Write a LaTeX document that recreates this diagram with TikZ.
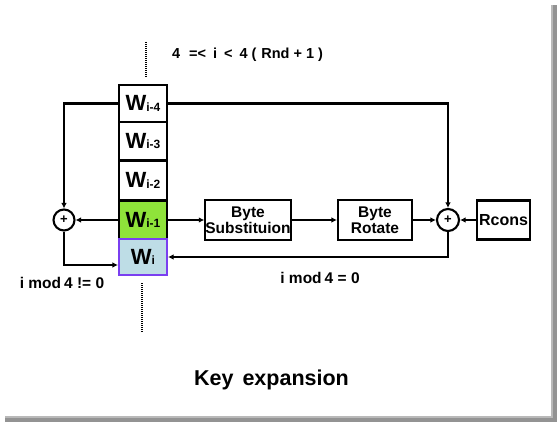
\documentclass[tikz,border=0pt]{standalone}
\usepackage{fontspec}
\setmainfont{Liberation Sans}
\usetikzlibrary{arrows.meta}
\definecolor{wgreen}{HTML}{8FE33A}
\definecolor{wblue}{HTML}{BEDDE6}
\definecolor{wpurple}{HTML}{7A3FF0}
\newcommand{\fs}[1]{\fontsize{#1}{#1}\selectfont}
\newcommand{\wlab}[1]{\fs{22}W\raisebox{-0.5pt}{\fs{12}#1}}
\begin{document}
\begin{tikzpicture}[x=1pt,y=-1pt,
  line width=2.1pt,
  font=\bfseries,
  arr/.style={-{Latex[length=5.5pt,width=5.5pt]}},
  wbox/.style={draw,minimum width=48pt,inner sep=0pt,font=\bfseries},
  pbox/.style={draw,inner sep=0pt,align=center,font=\bfseries\fs{15.5},execute at begin node={\setlength{\baselineskip}{16pt}}},
  adder/.style={draw,circle,minimum size=22pt,inner sep=0pt,font=\bfseries\fs{13}},
  lab/.style={inner sep=0pt,font=\bfseries\fs{15.5}},
  dotline/.style={line width=2pt,dash pattern=on 1pt off 1pt}]
\useasboundingbox (0,0) rectangle (557,422);
\fill[white] (0,0) rectangle (557,422);
% shadow frame
\fill[gray!85] (551,5) rectangle (557,422);
\fill[gray!85] (5,416) rectangle (557,422);
\fill[gray!55] (551,5) rectangle (552.5,416);
\fill[gray!55] (5,416) rectangle (552.5,417.5);
% column of words
\node[wbox,minimum height=37pt] (w4) at (143,103.5) {\wlab{i-4}};
\node[wbox,minimum height=38pt] (w3) at (143,141) {\wlab{i-3}};
\node[wbox,minimum height=40pt] (w2) at (143,180.5) {\wlab{i-2}};
\node[wbox,minimum height=38pt,fill=wgreen] (w1) at (143,220) {\wlab{i-1}};
\node[wbox,minimum height=36pt,fill=wblue,draw=wpurple] (w0) at (143,257) {\wlab{i}};
% processing boxes
\node[pbox,minimum width=84pt,minimum height=40pt] (bs) at (248,220) {Byte\\Substituion};
\node[pbox,minimum width=74pt,minimum height=40pt] (br) at (375,220) {Byte\\Rotate};
\node[pbox,minimum width=53pt,minimum height=39pt,font=\bfseries\fs{16}] (rc) at (503.5,220) {Rcons};
% adders
\node[adder,minimum size=21pt] (la) at (64,220) {+};
\node[adder] (ra) at (448,220) {+};
% dotted guides
\coordinate (d1) at (146,42);
\coordinate (d2) at (146,77);
\coordinate (d3) at (142,283);
\coordinate (d4) at (142,332);
\draw[dotline] (d1) -- (d2);
\draw[dotline] (d3) -- (d4);
% texts
\node[inner sep=0pt,font=\bfseries\fs{14.5}] (rng) at (247.5,55) {4\hspace{9pt}=<\hspace{7pt}i\hspace{7pt}<\hspace{7pt}4\hspace{4pt}(\hspace{5pt}Rnd\hspace{4pt}+\hspace{4pt}1\hspace{4pt})};
\node[lab] (lmod) at (62,283) {i mod\hspace{3pt}4 != 0};
\node[lab] (rmod) at (320,278) {i mod\hspace{3pt}4 = 0};
\node[inner sep=0pt,font=\bfseries\fs{21.5}] (title) at (271.5,380) {Key\hspace{9pt}expansion};
% connectors
\draw[arr] (w4.west) -| (la.north);
\draw[arr] (w1.west) -- (la.east);
\coordinate (lc) at (64,265);
\draw[arr] (la.south) -- (lc) -- (lc -| w0.west);
\draw[arr] (w1.east) -- (bs.west);
\draw[arr] (bs.east) -- (br.west);
\draw[arr] (br.east) -- (ra.west);
\draw[arr] (rc.west) -- (ra.east);
\draw[arr] (w4.east) -| (ra.north);
\coordinate (rcn) at (448,257);
\draw[arr] (ra.south) -- (rcn) -- (rcn -| w0.east);
\end{tikzpicture}
\end{document}
